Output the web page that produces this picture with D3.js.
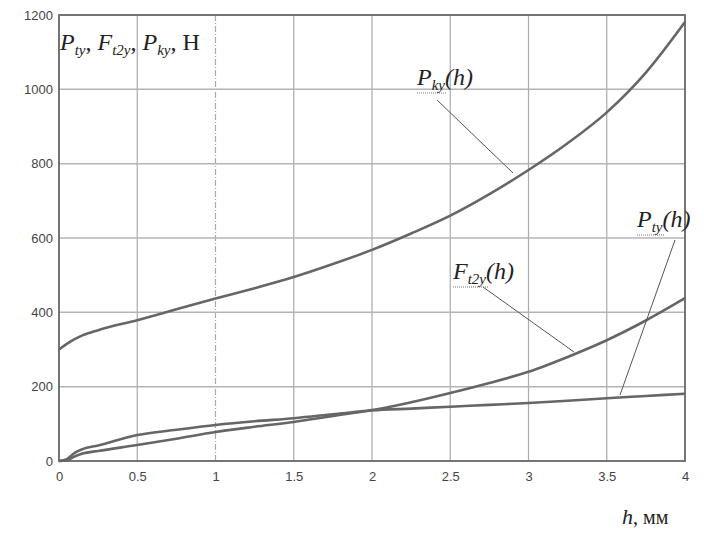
<!DOCTYPE html>
<html>
<head>
<meta charset="utf-8">
<script src="https://cdn.jsdelivr.net/npm/d3@7"></script>
<style>
  body { margin: 0; background: #fff; }
  .tick text { font-family: "Liberation Sans", Arial, sans-serif; font-size: 13px; fill: #444; }
  .lbl { font-family: "Liberation Serif", "Times New Roman", serif; fill: #222; }
</style>
</head>
<body>
<svg width="704" height="534"></svg>
<script>
// h, mm
var hVals = [0, 0.05, 0.1, 0.15, 0.25, 0.5, 0.75, 1, 1.25, 1.5, 1.75, 2, 2.25, 2.5, 2.75, 3, 3.25, 3.5, 3.75, 4];
// forces, N
var pky  = [300, 315, 328, 338, 352, 379, 408, 437, 465, 495, 530, 568, 612, 660, 718, 783, 855, 938, 1045, 1181];
var ft2y = [0, 5, 22, 32, 42, 70, 84, 97, 107, 115, 126, 137, 158, 183, 210, 240, 280, 325, 378, 438];
var pty  = [0, 2, 12, 20, 27, 43, 60, 78, 92, 105, 121, 136, 141, 146, 151, 156, 162, 169, 175, 181];

var xTicks = [0, 0.5, 1, 1.5, 2, 2.5, 3, 3.5, 4];
var yTicks = [0, 200, 400, 600, 800, 1000, 1200];

var svg = d3.select("svg");
var pLeft = 59, pRight = 685, pTop = 15, pBottom = 461;

var x = d3.scaleLinear().domain([0, 4]).range([pLeft, pRight]);
var y = d3.scaleLinear().domain([0, 1200]).range([pBottom, pTop]);

// grid
svg.append("g").selectAll("line")
    .data(xTicks.slice(1, -1))
    .enter().append("line")
    .attr("x1", function(d) { return x(d); })
    .attr("x2", function(d) { return x(d); })
    .attr("y1", pTop).attr("y2", pBottom)
    .attr("stroke", "#aaa")
    .attr("stroke-width", 1.2)
    .attr("stroke-dasharray", function(d) { return d == 1 ? "6,2,1,2" : null; });

svg.append("g").selectAll("line")
    .data(yTicks.slice(1, -1))
    .enter().append("line")
    .attr("x1", pLeft).attr("x2", pRight)
    .attr("y1", function(d) { return y(d); })
    .attr("y2", function(d) { return y(d); })
    .attr("stroke", "#b4b4b4")
    .attr("stroke-width", 1.5);

// frame
svg.append("rect")
    .attr("x", pLeft).attr("y", pTop)
    .attr("width", pRight - pLeft).attr("height", pBottom - pTop)
    .attr("fill", "none")
    .attr("stroke", "#666")
    .attr("stroke-width", 1.8);

// axes (labels only)
var xAxis = svg.append("g")
    .attr("transform", "translate(0," + pBottom + ")")
    .call(d3.axisBottom(x).tickValues(xTicks).tickSize(0).tickPadding(11).tickFormat(function(d) { return d; }));
xAxis.select(".domain").remove();

var yAxis = svg.append("g")
    .attr("transform", "translate(" + pLeft + ",0)")
    .call(d3.axisLeft(y).tickValues(yTicks).tickSize(0).tickPadding(6).tickFormat(d3.format("d")));
yAxis.select(".domain").remove();

// curves
var line = d3.line()
    .x(function(d, i) { return x(hVals[i]); })
    .y(function(d) { return y(d); })
    .curve(d3.curveMonotoneX);

[pky, ft2y, pty].forEach(function(s) {
    svg.append("path")
        .attr("d", line(s))
        .attr("fill", "none")
        .attr("stroke", "#666")
        .attr("stroke-width", 2.6);
});

// leader lines
var leaders = [
    [437, 100, 513, 173],
    [483, 287, 574, 352],
    [675, 240, 620, 395]
];
svg.selectAll("line.lead")
    .data(leaders)
    .enter().append("line")
    .attr("class", "lead")
    .attr("x1", function(d) { return d[0]; })
    .attr("y1", function(d) { return d[1]; })
    .attr("x2", function(d) { return d[2]; })
    .attr("y2", function(d) { return d[3]; })
    .attr("stroke", "#555")
    .attr("stroke-width", 1);

// curve labels
function curveLabel(xp, yp, letter, sub) {
    var t = svg.append("text").attr("class", "lbl")
        .attr("x", xp).attr("y", yp)
        .attr("font-size", 24).attr("font-style", "italic");
    var a = t.append("tspan").text(letter);
    var b = t.append("tspan").attr("font-size", 15).attr("dy", 5).text(sub);
    t.append("tspan").attr("dy", -5).text("(h)");
    var w = b.node().getComputedTextLength() + a.node().getComputedTextLength();
    svg.append("line")
        .attr("x1", xp).attr("x2", xp + w + 2)
        .attr("y1", yp + 8).attr("y2", yp + 8)
        .attr("stroke", "#777")
        .attr("stroke-width", 1)
        .attr("stroke-dasharray", "1,1");
}
curveLabel(417, 85, "P", "ky");
curveLabel(453, 279, "F", "t2y");
curveLabel(637, 227, "P", "ty");

// y axis title
var yt = svg.append("text").attr("class", "lbl")
    .attr("x", 60).attr("y", 50).attr("font-size", 24);
yt.append("tspan").attr("font-style", "italic").text("P");
yt.append("tspan").attr("font-style", "italic").attr("font-size", 15).attr("dy", 5).text("ty");
yt.append("tspan").attr("dy", -5).text(", ");
yt.append("tspan").attr("font-style", "italic").text("F");
yt.append("tspan").attr("font-style", "italic").attr("font-size", 15).attr("dy", 5).text("t2y");
yt.append("tspan").attr("dy", -5).text(", ");
yt.append("tspan").attr("font-style", "italic").text("P");
yt.append("tspan").attr("font-style", "italic").attr("font-size", 15).attr("dy", 5).text("ky");
yt.append("tspan").attr("dy", -5).text(", Н");

// x axis title
var xt = svg.append("text").attr("class", "lbl")
    .attr("x", 622).attr("y", 524).attr("font-size", 22);
xt.append("tspan").attr("font-style", "italic").text("h");
xt.append("tspan").attr("font-size", 20).text(", мм");
</script>
</body>
</html>
